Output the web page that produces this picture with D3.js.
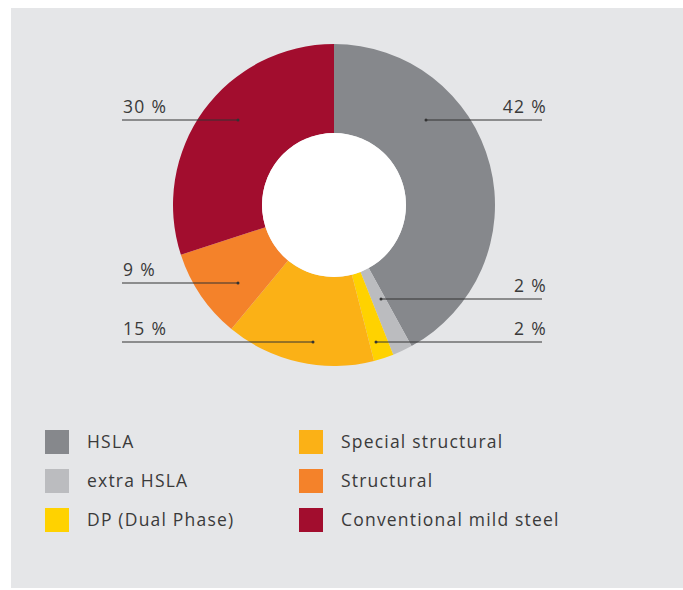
<!DOCTYPE html>
<html>
<head>
<meta charset="utf-8">
<script src="https://cdn.jsdelivr.net/npm/d3@7"></script>
<style>
  body { margin: 0; background: #fff; }
  svg { display: block; font-family: "Open Sans", sans-serif; }
</style>
</head>
<body>
<script>
// data
var categories = ["HSLA", "extra HSLA", "DP (Dual Phase)", "Special structural", "Structural", "Conventional mild steel"];
var shares = [42, 2, 2, 15, 9, 30];
var colors = ["#86888c", "#bbbcbf", "#ffd200", "#fbb116", "#f4822a", "#a20d2e"];

// label anchors (offset from centre) and which side the text sits
var labelAnchor = [[92, -85], [47, 94], [42, 137], [-21, 137], [-96, 78], [-96, -85]];
var labelSide = ["right", "right", "right", "left", "left", "left"];

var width = 683, height = 590;
var cx = 334, cy = 205;
var outerR = 161, innerR = 72;

var svg = d3.select("body").append("svg")
    .attr("width", width)
    .attr("height", height);

// grey panel
svg.append("rect")
    .attr("x", 11).attr("y", 8)
    .attr("width", width - 11).attr("height", height - 10)
    .attr("fill", "#e5e6e8");

var pie = d3.pie().sort(null).value(d => d);
var arc = d3.arc().innerRadius(innerR).outerRadius(outerR);

var g = svg.append("g").attr("transform", "translate(" + cx + "," + cy + ")");

g.selectAll("path")
    .data(pie(shares))
    .join("path")
    .attr("d", arc)
    .attr("fill", (d, i) => colors[i]);

g.append("circle").attr("r", innerR).attr("fill", "#fff");

// leader lines + labels
var leftX = 122 - cx, rightX = 542 - cx;
var labels = g.selectAll(".lbl")
    .data(shares)
    .join("g")
    .attr("class", "lbl");

labels.append("line")
    .attr("x1", (d, i) => labelAnchor[i][0])
    .attr("y1", (d, i) => labelAnchor[i][1])
    .attr("x2", (d, i) => labelSide[i] == "left" ? leftX : rightX)
    .attr("y2", (d, i) => labelAnchor[i][1])
    .attr("stroke", "#333")
    .attr("stroke-width", 1);

labels.append("circle")
    .attr("cx", (d, i) => labelAnchor[i][0])
    .attr("cy", (d, i) => labelAnchor[i][1])
    .attr("r", 1.5)
    .attr("fill", "#333");

labels.append("text")
    .attr("x", (d, i) => labelSide[i] == "left" ? leftX + 1 : rightX + 5)
    .attr("y", (d, i) => labelAnchor[i][1] - 7)
    .attr("text-anchor", (d, i) => labelSide[i] == "left" ? "start" : "end")
    .attr("font-size", 17.5)
    .attr("letter-spacing", 1.3)
    .attr("fill", "#3a3a3a")
    .text(d => d + " %");

// legend, two columns of three
var legend = svg.append("g");
var items = legend.selectAll("g")
    .data(categories)
    .join("g")
    .attr("transform", (d, i) => "translate(" + (i < 3 ? 45 : 299) + "," + (430 + (i % 3) * 39) + ")");

items.append("rect")
    .attr("width", 24).attr("height", 24)
    .attr("fill", (d, i) => colors[i]);

items.append("text")
    .attr("x", 42).attr("y", 18)
    .attr("font-size", 17.5)
    .attr("letter-spacing", 1.2)
    .attr("fill", "#3a3a3a")
    .text(d => d);
</script>
</body>
</html>
